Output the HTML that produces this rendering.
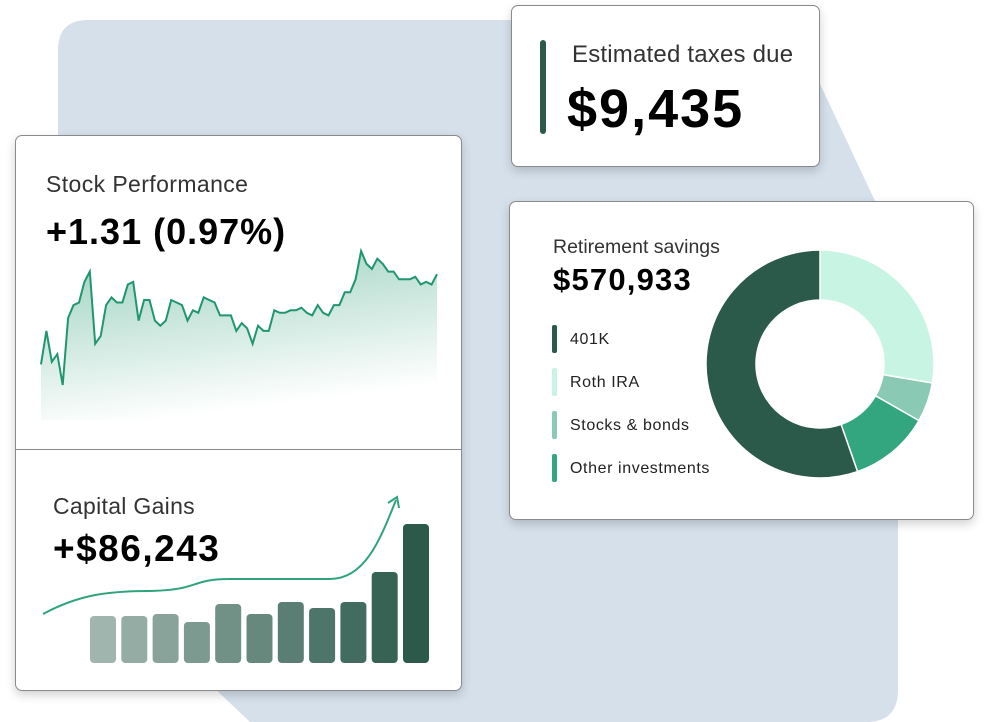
<!DOCTYPE html>
<html><head><meta charset="utf-8"><style>
body{margin:0;width:986px;height:722px;position:relative;overflow:hidden;background:#fff;font-family:"Liberation Sans",Arial,sans-serif}
.card{position:absolute;background:#fff;border:1px solid #8a8a8a;border-radius:7px;box-shadow:0 4px 10px rgba(0,0,0,.18);box-sizing:border-box}
.t{position:absolute;color:#333;white-space:nowrap}
.v{position:absolute;color:#000;font-weight:bold;white-space:nowrap}
</style></head><body>
<svg style="position:absolute;left:0;top:0" width="986" height="722">
<path d="M88,20 L790,20 L898,250 L898,690 Q898,722 866,722 L250,722 L58,540 L58,50 Q58,20 88,20 Z" fill="#d5e0eb"/>
</svg>

<div class="card" style="left:511px;top:5px;width:309px;height:162px">
 <div style="position:absolute;left:28px;top:34px;width:6px;height:94px;background:#2b5a4b;border-radius:3px"></div>
 <div class="t" style="left:60px;top:35px;font-size:24px;letter-spacing:0.2px">Estimated taxes due</div>
 <div class="v" style="left:55px;top:72px;font-size:54px;letter-spacing:2px">$9,435</div>
</div>

<div class="card" style="left:15px;top:135px;width:447px;height:556px">
 <div class="t" style="left:30px;top:35px;font-size:23px;letter-spacing:0.4px">Stock Performance</div>
 <div class="v" style="left:30px;top:75px;font-size:36px;letter-spacing:1px">+1.31 (0.97%)</div>
 <div style="position:absolute;left:0;right:0;top:313px;height:1px;background:#8a8a8a"></div>
 <div class="t" style="left:37px;top:357px;font-size:23px;letter-spacing:0.3px">Capital Gains</div>
 <div class="v" style="left:37px;top:392px;font-size:37px;letter-spacing:1.5px">+$86,243</div>
</div>

<div class="card" style="left:509px;top:201px;width:465px;height:319px">
 <div class="t" style="left:43px;top:34px;font-size:19.5px">Retirement savings</div>
 <div class="v" style="left:43px;top:60px;font-size:31px;letter-spacing:1.2px">$570,933</div>
</div>

<svg id="charts" style="position:absolute;left:0;top:0" width="986" height="722">
<defs>
<linearGradient id="fillg" x1="0" y1="0" x2="0.3" y2="1">
<stop offset="0" stop-color="#1f9670" stop-opacity="0.45"/>
<stop offset="1" stop-color="#1f9670" stop-opacity="0"/>
</linearGradient>
</defs>
<g id="stock"></g><g id="bars"></g><g id="donut"></g><g id="legend"></g>
<path d="M43,614 C80,594 110,591 150,591 C200,590 190,579 230,579 L330,579 C365,579 380,540 396,500" fill="none" stroke="#2fa37c" stroke-width="2"/>
<path d="M388,503 L397,497 L399,508" fill="none" stroke="#2fa37c" stroke-width="2"/>
</svg>
<script>
const stockPrices=[60,73,61,64,52,78,83,84,92,96,68,71,83,86,84,84,91,92,77,85,85,77,75,77,85,84,83,77,81,80,86,85,84,79,79,79,73,76,74,68,75,73,73,81,80,80,81,81,82,80,79,83,80,79,83,83,88,88,93,104,99,97,101,99,96,96,93,93,93,94,91,92,91,95];
const barValues=[47,47,49,41,59,49,61,55,61,91,139];
const savingsLabels=["Roth IRA","Stocks & bonds","Other investments","401K"];
const savingsValues=[158000,32000,65000,316000];
const legendOrder=["401K","Roth IRA","Stocks & bonds","Other investments"];
const NS="http://www.w3.org/2000/svg";
function mk(t,a,p){const e=document.createElementNS(NS,t);for(const k in a)e.setAttribute(k,a[k]);p.appendChild(e);return e;}
const sx=i=>41+i*(437-41)/(stockPrices.length-1);
const sy=v=>385-(v-52)*(385-251)/(104-52);
let d=stockPrices.map((v,i)=>(i?'L':'M')+sx(i).toFixed(1)+','+sy(v).toFixed(1)).join(' ');
const sg=document.getElementById('stock');
const area=mk('path',{d:d+' L437,420 L41,420 Z',fill:'url(#fillg)'},sg);


const line=mk('path',{d:d,fill:'none',stroke:'#1f9670','stroke-width':2},sg);


const bg=document.getElementById('bars');
const by=v=>663-v*(663-524)/139;
const c0=[160,181,174],c1=[43,90,75];
barValues.forEach((v,i)=>{const t=i/(barValues.length-1);
const col='rgb('+c0.map((c,k)=>Math.round(c+(c1[k]-c)*t)).join(',')+')';
const r=mk('rect',{x:90+i*31.3,y:by(v),width:26,height:663-by(v),rx:4,fill:col},bg);

});
const colors={"401K":"#2b5a4b","Roth IRA":"#c8f4e4","Stocks & bonds":"#8acab5","Other investments":"#33a67f"};
const dg=document.getElementById('donut');
const cx=820,cy=364,R=114,r0=64;
const tot=savingsValues.reduce((a,b)=>a+b,0);
let a0=0;
const pt=(a,rr)=>[cx+rr*Math.sin(a),cy-rr*Math.cos(a)];
savingsValues.forEach((v,i)=>{const a1=a0+v/tot*2*Math.PI;const lg=(a1-a0)>Math.PI?1:0;
const p1=pt(a0,R),p2=pt(a1,R),p3=pt(a1,r0),p4=pt(a0,r0);
const s=mk('path',{d:`M${p1} A${R},${R} 0 ${lg} 1 ${p2} L${p3} A${r0},${r0} 0 ${lg} 0 ${p4} Z`,fill:colors[savingsLabels[i]],stroke:'#fff','stroke-width':1.5},dg);


a0=a1;});
const lgG=document.getElementById('legend');
legendOrder.forEach((n,i)=>{const y=325+i*43;
const sw=mk('rect',{x:552,y:y,width:5,height:28,rx:2,fill:colors[n]},lgG);


const tx=mk('text',{x:570,y:y+19,'font-size':16,'letter-spacing':0.6,fill:'#222','font-family':'Liberation Sans, sans-serif'},lgG);
tx.textContent=n;

});
</script>
</body></html>
